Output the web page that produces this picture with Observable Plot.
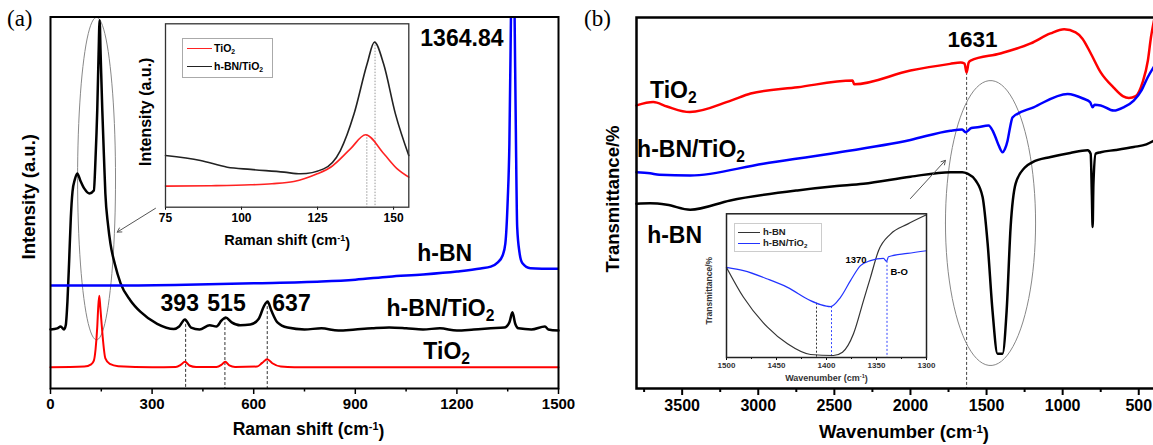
<!DOCTYPE html>
<html><head><meta charset="utf-8">
<script src="https://cdn.jsdelivr.net/npm/d3@7"></script>
<script src="https://cdn.jsdelivr.net/npm/@observablehq/plot@0.6"></script>
<style>
body{margin:0;background:#fff;}
#fig{position:relative;width:1153px;height:445px;overflow:hidden;background:#fff;font-family:"Liberation Sans",Arial,sans-serif;}
#fig svg{position:absolute;max-width:none;background:transparent;}
#fig svg [aria-label="x-axis tick label"]{font-weight:bold;}
.tag{position:absolute;font-family:"Liberation Serif","Times New Roman",serif;font-size:23px;color:#000;line-height:1;}
.leg{position:absolute;border:1px solid #aaa;background:#fff;}
.lline{position:absolute;height:0;}
.ltxt{position:absolute;font-weight:bold;color:#000;line-height:1;white-space:nowrap;}
.ltxt sub{font-size:65%;vertical-align:-0.35em;line-height:0;}
</style></head>
<body><div id="fig"></div>
<script>
// ---------- Panel (a): Raman ----------
const ramanX_TiO2 = [0,100,120,128,133,138,141,144,147,150,154,162,175,200,300,370,385,397,410,430,490,505,516,528,545,610,625,640,655,680,720,1500];
const ramanTiO2   = [5.7,5.9,6.5,7.5,10.5,16.5,22.0,25.0,22.0,18.5,14.0,8.1,6.6,6.0,5.7,5.8,6.4,7.2,6.2,5.8,5.8,6.4,7.2,6.2,5.8,5.9,6.9,7.9,6.8,5.9,5.7,5.7];
const ramanX_BNTi = [0,20,30,40,45,50,55,60,65,72,79,88,100,115,128,133,138,142,145,148,153,158,162,170,177,190,207,236,266,315,364,380,397,415,440,470,490,505,517,535,560,590,615,630,641,652,670,700,750,800,850,900,950,1000,1050,1100,1150,1200,1250,1300,1340,1355,1364,1372,1382,1420,1460,1470,1500];
const ramanBNTi   = [15.9,16.2,16.7,15.9,17.0,23.4,34.2,46.0,53.0,56.3,57.9,56.0,53.8,52.5,53.3,62.0,74.8,90.0,99.1,90.0,74.8,62.0,52.5,44.0,39.0,33.5,28.3,23.7,20.6,17.4,16.0,16.7,18.6,16.4,15.9,17.0,16.7,18.3,19.1,17.8,17.0,17.2,18.8,22.1,23.4,21.0,17.8,16.4,15.9,16.2,15.6,15.9,16.2,16.4,16.2,15.9,16.2,15.6,15.9,16.2,16.4,17.8,20.5,17.5,16.2,15.9,16.7,15.9,15.6];
const ramanX_BN   = [0,200,400,600,800,900,1000,1100,1200,1270,1300,1320,1335,1343,1350,1355,1359,1362,1364.84,1368,1371,1374,1378,1385,1393,1417,1500];
const ramanBN     = [27.7,27.7,27.9,28.3,28.8,29.3,30.1,30.7,31.5,32.3,32.8,33.9,35.8,39.0,50.6,66.0,95.0,120.0,140.0,120.0,95.0,70.0,43.5,36.5,33.8,32.4,32.2];
const ramanTicks = [0,300,600,900,1200,1500];
const ramanMinorTicks = [150,450,750,1050,1350];
const ramanPeakX = [399,515,640];
const ramanPeakTop = [18.6,19.1,23.4];
const ramanLabelText = ["1364.84","h-BN","h-BN/TiO₂","TiO₂","393","515","637"];
const ramanLabelX = [1092,1083,992,1101,325,463,655];
const ramanLabelY = [94.3,36.4,21.4,9.8,22.9,22.9,22.9];

// ---------- Inset (a) ----------
const insetAX_TiO2 = [75,90,103,110,117.2,124.9,129.3,135.8,140.8,146.8,151.2,155];
const insetATiO2   = [11.5,11.7,12.2,12.8,14.0,18.2,21.8,31.8,39.5,29.1,20.9,16.4];
const insetAX_BNTi = [75,86.5,95.3,103,114,119.4,127,132.5,137,141.3,143.7,146.7,150.6,155];
const insetABNTi   = [28.2,25.5,21.8,20.6,19.1,18.2,20.9,30.9,50.9,78.2,90.0,78.2,50.9,28.2];
const insetATicks = [75,100,125,150];
const insetAPeakX = [141.2,143.9];
const insetAPeakTop = [39.5,90.0];

// ---------- Panel (b): FTIR ----------
const ftirX_TiO2 = [3800,3690,3600,3450,3180,3050,2740,2380,2370,2000,1740,1670,1645,1631,1618,1605,1410,1210,1080,990,915,870,815,750,665,605,565,520,475,440,420,400];
const ftirTiO2   = [76.3,77.2,76.0,74.5,77.6,79.5,81.2,83.0,82.0,85.7,87.5,87.9,87.6,85.2,87.8,88.4,90.3,93.0,95.7,96.8,96.0,94.3,90.3,85.2,81.1,78.8,78.3,78.8,82.5,88.4,94.6,99.2];
const ftirX_BNTi = [3800,3711,3650,3447,2967,2526,2000,1737,1660,1638,1600,1559,1487,1460,1441,1420,1395,1380,1362,1345,1329,1191,967,862,820,803,790,750,664,599,533,480,441,401];
const ftirBNTi   = [58.3,58.0,57.6,57.4,60.6,63.3,67.0,69.5,69.8,69.1,70.2,70.4,70.9,69.5,67.7,65.5,63.7,64.5,66.8,70.5,73.1,75.8,79.4,78.1,77.2,75.8,76.5,76.3,74.9,75.8,77.6,80.5,83.9,86.7];
const ftirX_BN   = [3800,3711,3600,3447,3184,2743,2500,2309,2000,1737,1660,1625,1572,1526,1493,1461,1428,1395,1368,1342,1309,1250,1197,1079,950,836,816,808,803,798,783,750,650,533,450,401];
const ftirBN     = [49.8,49.9,49.5,48.2,50.7,53.4,54.5,55.2,57.1,58.3,58.3,57.9,56.1,51.6,39.1,21.0,9.4,9.4,21.0,43.5,55.2,59.5,61.0,62.4,63.5,64.2,63.3,52.0,43.5,55.0,63.3,63.7,64.3,65.1,65.8,66.8];
const ftirTicks = [3500,3000,2500,2000,1500,1000,500];
const ftirMinorTicks = [3750,3250,2750,2250,1750,1250,750];
const ftirLabelText = ["TiO₂","h-BN/TiO₂","h-BN"];
const ftirLabelX = [3711,3796,3730];
const ftirLabelY = [80.2,64.3,41.1];

// ---------- Inset (b) ----------
const insetBX_BN   = [1500,1483,1459,1439,1416,1393,1384,1373,1363,1356,1348,1336,1319,1300];
const insetBBN     = [62.7,41.9,21.1,9.5,2.1,1.4,3.7,16.5,39.6,55.8,74.3,85.9,92.8,99.3];
const insetBX_BNTi = [1500,1483,1459,1439,1416,1406,1396,1386,1376,1366,1356,1343,1340,1338,1319,1300];
const insetBBNTi   = [62.7,60.4,54.6,48.8,39.6,36.8,35.4,41.9,53.5,63.9,67.4,69.0,66.9,70.1,72.4,74.3];
const insetBTicks = [1500,1450,1400,1350,1300];
const insetBMinorTicks = [1475,1425,1375,1325];

// ---------- helpers ----------
const FONT = '"Liberation Sans", Arial, sans-serif';
const P = (xs, ys) => xs.map((x, i) => ({x, y: ys[i]}));
const L = (ts, xs, ys) => ts.map((t, i) => ({t, x: xs[i], y: ys[i]}));
const ellipse = (cx, cy, rx, ry) => d3.range(0, 361, 4).map(a => ({x: cx + rx * Math.cos(a * Math.PI / 180), y: cy + ry * Math.sin(a * Math.PI / 180)}));
const fig = document.getElementById("fig");
// turn "₂" and "⁻¹" into real sub/superscript tspans
function scripts(svg) {
  svg.querySelectorAll("text").forEach(el => {
    if (el.children.length) return;
    const s = el.textContent;
    if (s.includes("₂")) el.innerHTML = s.replace("₂", '<tspan dy="0.32em" font-size="0.68em">2</tspan>');
    else if (s.includes("⁻¹)")) el.innerHTML = s.replace("⁻¹)", '<tspan dy="-0.42em" font-size="0.62em">-1</tspan><tspan dy="0.42em">)</tspan>');
  });
}
function place(svg, left, top) { scripts(svg); svg.style.left = left + "px"; svg.style.top = top + "px"; fig.appendChild(svg); }
const baseStyle = {fontFamily: FONT, background: "transparent", overflow: "visible"};

// ---------- Panel (a) ----------
const A = Plot.plot({
  width: 576, height: 445,
  marginLeft: 50, marginRight: 18, marginTop: 16.5, marginBottom: 57,
  x: {domain: [0, 1500]},
  y: {domain: [0, 100], axis: null},
  style: baseStyle,
  marks: [
    Plot.axisX(ramanMinorTicks, {tickSize: 3.5, strokeWidth: 1.5, tickFormat: () => "", label: null}),
    Plot.axisX(ramanTicks, {tickSize: 6, strokeWidth: 1.5, tickPadding: 4, tickFormat: "d", fontSize: 15, fontWeight: "bold", label: null}),
    Plot.ruleX(P(ramanPeakX, ramanPeakTop), {x: "x", y1: "y", y2: 0, stroke: "#333", strokeWidth: 1, strokeDasharray: "3,2"}),
    Plot.line(ellipse(136, 56.5, 56, 43.4), {x: "x", y: "y", stroke: "#888", strokeWidth: 1}),
    Plot.line(P(ramanX_TiO2, ramanTiO2), {x: "x", y: "y", stroke: "#ff0000", strokeWidth: 2, curve: "monotone-x"}),
    Plot.line(P(ramanX_BNTi, ramanBNTi), {x: "x", y: "y", stroke: "#000", strokeWidth: 2.5, curve: "monotone-x"}),
    Plot.line(P(ramanX_BN, ramanBN), {x: "x", y: "y", stroke: "#0000ff", strokeWidth: 2.5, curve: "monotone-x", clip: true}),
    Plot.arrow([{x1: 310, y1: 48.5, x2: 197, y2: 42.1}], {x1: "x1", y1: "y1", x2: "x2", y2: "y2", stroke: "#555", strokeWidth: 1, headLength: 7}),
    Plot.text(L(ramanLabelText, ramanLabelX, ramanLabelY), {x: "x", y: "y", text: "t", textAnchor: "start", fontSize: 23, fontWeight: "bold", fill: "#000"}),
    Plot.text(["Raman shift (cm⁻¹)"], {text: d => d, frameAnchor: "bottom", textAnchor: "middle", dx: 4, dy: 46, fontSize: 17.5, fontWeight: "bold"}),
    Plot.text(["Intensity (a.u.)"], {text: d => d, frameAnchor: "left", textAnchor: "middle", rotate: -90, dx: -21, dy: -6, fontSize: 18.5, fontWeight: "bold"}),
    Plot.frame({stroke: "#000", strokeWidth: 2})
  ]
});
place(A, 0, 0);

// ---------- Inset (a) ----------
const IA = Plot.plot({
  width: 300, height: 255,
  marginLeft: 45, marginRight: 11.7, marginTop: 13.3, marginBottom: 58.3,
  x: {domain: [75, 155]},
  y: {domain: [0, 100], axis: null},
  style: baseStyle,
  marks: [
    Plot.axisX(insetATicks, {tickSize: 3, strokeWidth: 1, tickPadding: 3, tickFormat: "d", fontSize: 12, fontWeight: "bold", label: null}),
    Plot.ruleX(P(insetAPeakX, insetAPeakTop), {x: "x", y1: "y", y2: 0, stroke: "#999", strokeWidth: 1, strokeDasharray: "1.5,1.5"}),
    Plot.line(P(insetAX_TiO2, insetATiO2), {x: "x", y: "y", stroke: "#ff2222", strokeWidth: 1.6, curve: "monotone-x"}),
    Plot.line(P(insetAX_BNTi, insetABNTi), {x: "x", y: "y", stroke: "#222", strokeWidth: 1.6, curve: "monotone-x"}),
    Plot.text(["Raman shift (cm⁻¹)"], {text: d => d, frameAnchor: "bottom", textAnchor: "middle", dy: 38, fontSize: 14.5, fontWeight: "bold"}),
    Plot.text([{t: "Intensity (a.u.)", x: 68.4, y: 52}], {x: "x", y: "y", text: "t", textAnchor: "middle", rotate: -90, fontSize: 16, fontWeight: "bold"}),
    Plot.frame({stroke: "#333", strokeWidth: 1.3})
  ]
});
place(IA, 120, 10);

// ---------- Panel (b) ----------
const B = Plot.plot({
  width: 573, height: 445,
  marginLeft: 56, marginRight: -2, marginTop: 17, marginBottom: 57,
  x: {domain: [3800, 390]},
  y: {domain: [0, 100], axis: null},
  style: baseStyle,
  marks: [
    Plot.axisX(ftirMinorTicks, {tickSize: 4, strokeWidth: 2, tickFormat: () => "", label: null}),
    Plot.axisX(ftirTicks, {tickSize: 7, strokeWidth: 2, tickPadding: 4, tickFormat: "d", fontSize: 16, fontWeight: "bold", label: null}),
    Plot.ruleX([{x: 1631, y: 85.2}], {x: "x", y1: "y", y2: 0, stroke: "#444", strokeWidth: 1, strokeDasharray: "3,2"}),
    Plot.line(ellipse(1474, 44.6, 296, 38.4), {x: "x", y: "y", stroke: "#888", strokeWidth: 1}),
    Plot.line(P(ftirX_TiO2, ftirTiO2), {x: "x", y: "y", stroke: "#ff0000", strokeWidth: 2.5, curve: "monotone-x"}),
    Plot.line(P(ftirX_BNTi, ftirBNTi), {x: "x", y: "y", stroke: "#0000ff", strokeWidth: 2.5, curve: "monotone-x"}),
    Plot.line(P(ftirX_BN, ftirBN), {x: "x", y: "y", stroke: "#000", strokeWidth: 2.5, curve: "monotone-x"}),
    Plot.arrow([{x1: 2000, y1: 51.2, x2: 1770, y2: 61.5}], {x1: "x1", y1: "y1", x2: "x2", y2: "y2", stroke: "#555", strokeWidth: 1, headLength: 7}),
    Plot.text(L(ftirLabelText, ftirLabelX, ftirLabelY), {x: "x", y: "y", text: "t", textAnchor: "start", fontSize: 23, fontWeight: "bold"}),
    Plot.text([{t: "1631", x: 1592, y: 93.9}], {x: "x", y: "y", text: "t", fontSize: 22.5, fontWeight: "bold"}),
    Plot.text(["Wavenumber (cm⁻¹)"], {text: d => d, frameAnchor: "bottom", textAnchor: "middle", dx: 8, dy: 49, fontSize: 18.5, fontWeight: "bold"}),
    Plot.text(["Transmittance/%"], {text: d => d, frameAnchor: "left", textAnchor: "middle", rotate: -90, dx: -23, dy: -4, fontSize: 18.5, fontWeight: "bold"}),
    Plot.frame({stroke: "#000", strokeWidth: 2.5})
  ]
});
place(B, 580, 0);

// ---------- Inset (b) ----------
const IB = Plot.plot({
  width: 250, height: 200,
  marginLeft: 36, marginRight: 14, marginTop: 13.3, marginBottom: 43,
  x: {domain: [1500, 1300]},
  y: {domain: [0, 100], axis: null},
  style: baseStyle,
  marks: [
    Plot.axisX(insetBMinorTicks, {tickSize: 2, strokeWidth: 1, tickFormat: () => "", label: null}),
    Plot.axisX(insetBTicks, {tickSize: 3, strokeWidth: 1, tickPadding: 2, tickFormat: "d", fontSize: 8, fontWeight: "bold", fill: "#333", label: null}),
    Plot.ruleX([{x: 1410, y: 37.8}], {x: "x", y1: "y", y2: 0, stroke: "#333", strokeWidth: 1, strokeDasharray: "2,2"}),
    Plot.ruleX([{x: 1395, y: 35.4}, {x: 1339.5, y: 66.9}], {x: "x", y1: "y", y2: 0, stroke: "#3344ff", strokeWidth: 1, strokeDasharray: "2,2"}),
    Plot.line(P(insetBX_BN, insetBBN), {x: "x", y: "y", stroke: "#333", strokeWidth: 1.2, curve: "monotone-x"}),
    Plot.line(P(insetBX_BNTi, insetBBNTi), {x: "x", y: "y", stroke: "#2233ff", strokeWidth: 1.2, curve: "monotone-x"}),
    Plot.text([{t: "1370", x: 1381, y: 68.2}, {t: "B-O", x: 1336, y: 59.2}], {x: "x", y: "y", text: "t", textAnchor: "start", fontSize: 9.5, fontWeight: "bold"}),
    Plot.text(["Wavenumber (cm⁻¹)"], {text: d => d, frameAnchor: "bottom", textAnchor: "middle", dy: 23, fontSize: 9, fontWeight: "bold", fill: "#333"}),
    Plot.text(["Transmittance/%"], {text: d => d, frameAnchor: "left", textAnchor: "middle", rotate: -90, dx: -17, dy: 5, fontSize: 8.5, fontWeight: "bold", fill: "#333"}),
    Plot.frame({stroke: "#222", strokeWidth: 1.5})
  ]
});
place(IB, 690, 200);

// ---------- legends and panel tags (HTML) ----------
function div(cls, css, html) { const d = document.createElement("div"); d.className = cls; Object.assign(d.style, css); if (html) d.innerHTML = html; fig.appendChild(d); return d; }
div("tag", {left: "7px", top: "7px"}, "(a)");
div("tag", {left: "584px", top: "7px"}, "(b)");
// inset a legend
div("leg", {left: "182px", top: "38px", width: "89px", height: "38px"});
div("lline", {left: "187px", top: "48px", width: "25px", borderTop: "1.8px solid #ff2222"});
div("ltxt", {left: "214px", top: "43px", fontSize: "10.5px"}, "TiO<sub>2</sub>");
div("lline", {left: "187px", top: "66px", width: "25px", borderTop: "1.8px solid #222"});
div("ltxt", {left: "214px", top: "61px", fontSize: "10.5px"}, "h-BN/TiO<sub>2</sub>");
// inset b legend
div("leg", {left: "734px", top: "223px", width: "86px", height: "27px", borderColor: "#ccc"});
div("lline", {left: "738px", top: "232px", width: "22px", borderTop: "1.3px solid #333"});
div("ltxt", {left: "763px", top: "227px", fontSize: "9.5px", color: "#222"}, "h-BN");
div("lline", {left: "738px", top: "243px", width: "22px", borderTop: "1.3px solid #2233ff"});
div("ltxt", {left: "763px", top: "238px", fontSize: "9.5px", color: "#222"}, "h-BN/TiO<sub>2</sub>");
</script>
</body></html>
